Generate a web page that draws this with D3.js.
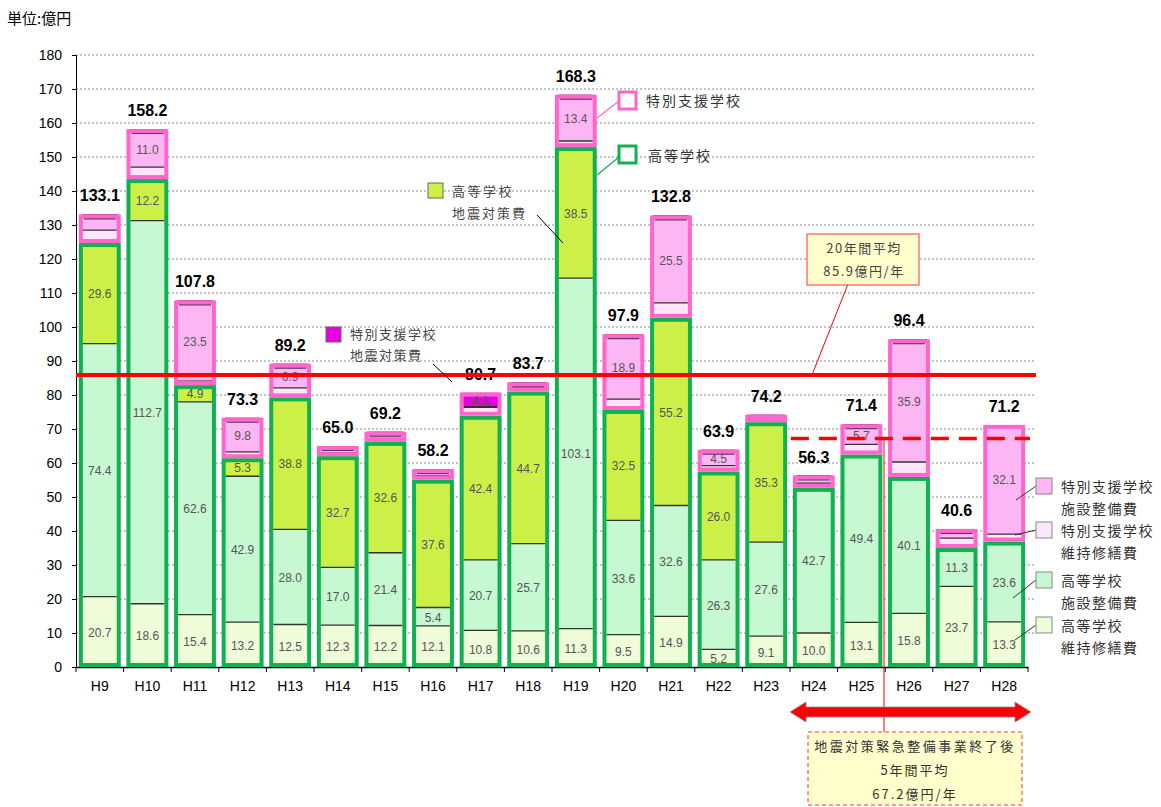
<!DOCTYPE html>
<html><head><meta charset="utf-8">
<script src="https://cdn.jsdelivr.net/npm/d3@7"></script>
<style>
body{margin:0;background:#fff;}
svg{display:block;font-family:"Liberation Sans","Noto Sans CJK JP",sans-serif;}
.jp{font-family:"Noto Sans CJK JP","Liberation Sans",sans-serif;}
</style></head><body>
<svg id="c" width="1161" height="807"></svg>
<script>
const categories = ["H9","H10","H11","H12","H13","H14","H15","H16","H17","H18","H19","H20","H21","H22","H23","H24","H25","H26","H27","H28"];
const hsMaint    = [20.7,18.6,15.4,13.2,12.5,12.3,12.2,12.1,10.8,10.6,11.3,9.5,14.9,5.2,9.1,10.0,13.1,15.8,23.7,13.3];
const hsFacility = [74.4,112.7,62.6,42.9,28.0,17.0,21.4,5.4,20.7,25.7,103.1,33.6,32.6,26.3,27.6,42.7,49.4,40.1,11.3,23.6];
const hsQuake    = [29.6,12.2,4.9,5.3,38.8,32.7,32.6,37.6,42.4,44.7,38.5,32.5,55.2,26.0,35.3,0,0,0,0,0];
const spMaint    = [3.8,3.5,1.2,1.9,2.8,1.0,1.0,1.1,2.5,1.0,1.8,3.2,4.4,1.7,0.8,1.4,3.0,4.4,2.9,2.2];
const spFacility = [4.4,11.0,23.5,9.8,6.9,1.8,1.8,1.8,0.2,1.5,13.4,18.9,25.5,4.5,1.2,2.0,5.7,35.9,2.5,32.1];
const spQuake    = [0.2,0.2,0.2,0.2,0.2,0.2,0.2,0.2,4.1,0.2,0.2,0.2,0.2,0.2,0.2,0.2,0.2,0.2,0.2,0];
const totals     = [133.1,158.2,107.8,73.3,89.2,65.0,69.2,58.2,80.7,83.7,168.3,97.9,132.8,63.9,74.2,56.3,71.4,96.4,40.6,71.2];
const yTicks = d3.range(0,181,10);
const avg20 = 85.9;
const avg5 = 67.2;

const seriesKeys = ["hsMaint","hsFacility","hsQuake","spMaint","spFacility","spQuake"];
const seriesData = {hsMaint,hsFacility,hsQuake,spMaint,spFacility,spQuake};
const colors = {hsMaint:"#eefcd8",hsFacility:"#c6f8d2",hsQuake:"#ccf048",spMaint:"#fde6fb",spFacility:"#fcb6f4",spQuake:"#e600e0"};

const svg = d3.select("#c");
const x = d3.scaleBand().domain(categories).range([76,1028]).paddingInner(0.12).paddingOuter(0.06);
const y = d3.scaleLinear().domain([0,180]).range([667,55]);

// gridlines
svg.append("g").selectAll("line").data(yTicks.filter(d=>d>0)).join("line")
  .attr("x1",76).attr("x2",1036).attr("y1",d=>y(d)).attr("y2",d=>y(d))
  .attr("stroke","#8a8a8a").attr("stroke-dasharray","2,2").attr("stroke-width",1);

// axes
const ya = svg.append("g").attr("transform","translate(76,0)")
  .call(d3.axisLeft(y).tickValues(yTicks).tickSize(4).tickPadding(10).tickFormat(d3.format("d")));
ya.select(".domain").attr("stroke","#000");
ya.selectAll("text").attr("font-size",14).attr("fill","#000").attr("font-family","Liberation Sans");
const xa = svg.append("g").attr("transform","translate(0,667)")
  .call(d3.axisBottom(x).tickSize(0).tickPadding(14));
xa.select(".domain").attr("stroke","#000").attr("stroke-width",1.5);
xa.selectAll("text").attr("font-size",14).attr("fill","#000").attr("font-family","Liberation Sans");
svg.append("g").selectAll("line").data(d3.range(categories.length+1)).join("line")
  .attr("x1",i=>76+i*x.step()).attr("x2",i=>76+i*x.step()).attr("y1",667).attr("y2",672)
  .attr("stroke","#000");

svg.append("text").attr("class","jp").attr("x",7).attr("y",24).attr("font-size",15).text("単位:億円");

// stacked bars
const stack = d3.stack().keys(seriesKeys);
const rows = categories.map((c,i)=>{const o={cat:c};seriesKeys.forEach(k=>o[k]=seriesData[k][i]);return o;});
const stacked = stack(rows);
const bw = x.bandwidth();
const barG = svg.append("g");
stacked.forEach(layer=>{
  barG.append("g").selectAll("rect").data(layer).join("rect")
    .attr("x",d=>x(d.data.cat)+2).attr("width",bw-4)
    .attr("y",d=>y(d[1])).attr("height",d=>Math.max(0,y(d[0])-y(d[1])))
    .attr("fill",colors[layer.key]);
});
stacked.forEach((layer,li)=>{
  if(li===0) return;
  barG.append("g").selectAll("line").data(layer.filter(d=>d[1]-d[0]>0 && li!==3)).join("line")
    .attr("x1",d=>x(d.data.cat)+4).attr("x2",d=>x(d.data.cat)+bw-4)
    .attr("y1",d=>y(d[0])).attr("y2",d=>y(d[0]))
    .attr("stroke","#333").attr("stroke-width",1.3);
});
barG.append("g").selectAll("line").data(stacked[5].filter(d=>d[1]-d[0]>0 && d[1]-d[0]<1)).join("line")
  .attr("x1",d=>x(d.data.cat)+5).attr("x2",d=>x(d.data.cat)+bw-5)
  .attr("y1",d=>y(d[1])+4).attr("y2",d=>y(d[1])+4).attr("stroke","#553355").attr("stroke-width",2);
rows.forEach((r,i)=>{
  const hs = r.hsMaint+r.hsFacility+r.hsQuake;
  const sp = r.spMaint+r.spFacility+r.spQuake;
  barG.append("rect").attr("x",x(r.cat)+2).attr("width",bw-4)
    .attr("y",y(hs)+2).attr("height",y(0)-y(hs)-4)
    .attr("fill","none").attr("stroke","#11b050").attr("stroke-width",4);
  barG.append("rect").attr("x",x(r.cat)+2).attr("width",bw-4)
    .attr("y",y(hs+sp)+2).attr("height",Math.max(0,y(hs)-y(hs+sp)-4))
    .attr("fill","none").attr("stroke","#ff66cc").attr("stroke-width",4);
});
const labelOK = (k,v)=>{
  if(k.startsWith("hs")) return v>0;
  if(k==="spFacility") return v>=4.5;
  if(k==="spQuake") return v>=4;
  return false;
};
stacked.forEach(layer=>{
  barG.append("g").selectAll("text").data(layer.filter(d=>labelOK(layer.key,d[1]-d[0]))).join("text")
    .attr("x",d=>x(d.data.cat)+bw/2).attr("y",d=>(y(d[0])+y(d[1]))/2+5)
    .attr("text-anchor","middle").attr("font-size",12).attr("fill","#555")
    .text(d=>(d[1]-d[0]).toFixed(1));
});
svg.append("g").selectAll("text").data(categories).join("text")
  .attr("x",c=>x(c)+bw/2).attr("y",(c,i)=>y(totals[i])-13)
  .attr("text-anchor","middle").attr("font-size",16).attr("font-weight","bold")
  .text((c,i)=>totals[i].toFixed(1));

// average lines
svg.append("line").attr("x1",76).attr("x2",1036).attr("y1",y(avg20)).attr("y2",y(avg20))
  .attr("stroke","#ff0000").attr("stroke-width",4);
svg.append("line").attr("x1",x("H24")-2).attr("x2",1030).attr("y1",y(avg5)).attr("y2",y(avg5))
  .attr("stroke","#ff0000").attr("stroke-width",3.5).attr("stroke-dasharray","18,10");

const jpText = (x0,y0,t,size,ls,anchor,fill)=>svg.append("text").attr("class","jp").attr("x",x0).attr("y",y0)
  .attr("font-size",size).attr("letter-spacing",ls).attr("text-anchor",anchor||"start").attr("fill",fill||"#333").text(t);

// 20-year callout
svg.append("line").attr("x1",848).attr("y1",284).attr("x2",812).attr("y2",y(avg20)).attr("stroke","#ff0000").attr("stroke-width",1);
svg.append("rect").attr("x",807).attr("y",234).attr("width",112).attr("height",51).attr("fill","#ffffcc").attr("stroke","#ff3333").attr("stroke-width",1);
jpText(864,253,"20年間平均",13,1.5,"middle","#444");
jpText(864,276,avg20.toFixed(1)+"億円/年",13,1.5,"middle","#444");

// bottom annotation
svg.append("line").attr("x1",884).attr("x2",884).attr("y1",y(avg5)).attr("y2",735).attr("stroke","#ff0000").attr("stroke-width",1);
const ax1=790, ax2=1031, ay=712;
svg.append("path").attr("d",`M${ax1},${ay} L${ax1+16},${ay-10} L${ax1+16},${ay-5} L${ax2-16},${ay-5} L${ax2-16},${ay-10} L${ax2},${ay} L${ax2-16},${ay+10} L${ax2-16},${ay+5} L${ax1+16},${ay+5} L${ax1+16},${ay+10} Z`)
  .attr("fill","#ff0000").attr("stroke","#7a8aa0").attr("stroke-width",0.8);
svg.append("rect").attr("x",808).attr("y",732).attr("width",214).attr("height",73).attr("fill","#ffffcc").attr("stroke","#ff3333").attr("stroke-dasharray","4,3").attr("stroke-width",1);
jpText(915,751,"地震対策緊急整備事業終了後",13,2.5,"middle");
jpText(915,775,"5年間平均",13,2,"middle");
jpText(915,799,avg5.toFixed(1)+"億円/年",13,2,"middle");

// group legend callouts
svg.append("line").attr("x1",597).attr("y1",118).attr("x2",619).attr("y2",101).attr("stroke","#ff66cc").attr("stroke-width",1.2);
svg.append("rect").attr("x",619).attr("y",92).attr("width",17).attr("height",17).attr("fill","#fff").attr("stroke","#ff66cc").attr("stroke-width",3);
jpText(646,106,"特別支援学校",14,2);
svg.append("line").attr("x1",597).attr("y1",175).attr("x2",619).attr("y2",157).attr("stroke","#11b050").attr("stroke-width",1.2);
svg.append("rect").attr("x",619).attr("y",146).attr("width",17).attr("height",17).attr("fill","#fff").attr("stroke","#11b050").attr("stroke-width",3);
jpText(648,161,"高等学校",14,2);

// quake callouts
svg.append("line").attr("x1",537).attr("y1",215).attr("x2",563).attr("y2",243).attr("stroke","#000").attr("stroke-width",1);
svg.append("rect").attr("x",428).attr("y",183).attr("width",15).attr("height",15).attr("fill",colors.hsQuake).attr("stroke","#666").attr("stroke-width",1);
jpText(452,196,"高等学校",13,2.5,"start","#444");
jpText(452,218,"地震対策費",13,2,"start","#444");
svg.append("line").attr("x1",433).attr("y1",364).attr("x2",452).attr("y2",382).attr("stroke","#000").attr("stroke-width",1);
svg.append("rect").attr("x",326).attr("y",327).attr("width",15).attr("height",15).attr("fill",colors.spQuake).attr("stroke","#666").attr("stroke-width",1);
jpText(350,339,"特別支援学校",13,1.5,"start","#444");
jpText(350,360,"地震対策費",13,1.5,"start","#444");

// right legend
const legendItems = [
  {key:"spFacility",l1:"特別支援学校",l2:"施設整備費",y:478,tx:1016,ty:500},
  {key:"spMaint",l1:"特別支援学校",l2:"維持修繕費",y:522,tx:1015,ty:535},
  {key:"hsFacility",l1:"高等学校",l2:"施設整備費",y:572,tx:1013,ty:598},
  {key:"hsMaint",l1:"高等学校",l2:"維持修繕費",y:617,tx:1015,ty:640}
];
const lg = svg.append("g").selectAll("g").data(legendItems).join("g");
lg.append("line").attr("x1",1036).attr("y1",d=>d.y+8).attr("x2",d=>d.tx).attr("y2",d=>d.ty).attr("stroke","#333").attr("stroke-width",1);
lg.append("rect").attr("x",1036).attr("y",d=>d.y).attr("width",16).attr("height",16).attr("fill",d=>colors[d.key]).attr("stroke","#888").attr("stroke-width",1);
lg.append("text").attr("class","jp").attr("x",1061).attr("y",d=>d.y+14).attr("font-size",14).attr("fill","#333").attr("letter-spacing",1.5).text(d=>d.l1);
lg.append("text").attr("class","jp").attr("x",1061).attr("y",d=>d.y+36).attr("font-size",14).attr("fill","#333").attr("letter-spacing",1.5).text(d=>d.l2);
</script></body></html>
